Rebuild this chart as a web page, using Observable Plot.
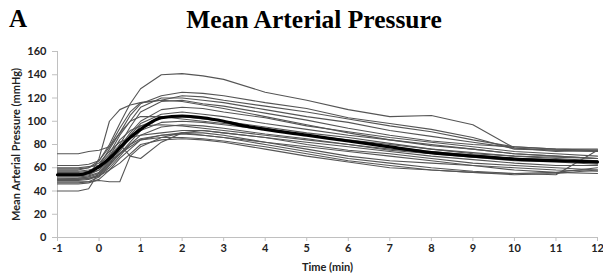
<!DOCTYPE html>
<html>
<head>
<meta charset="utf-8">
<script src="https://cdn.jsdelivr.net/npm/d3@7"></script>
<script src="https://cdn.jsdelivr.net/npm/@observablehq/plot@0.6"></script>
<style>
  body { margin: 0; background: #fff; }
  #wrap { position: relative; width: 603px; height: 279px; }
  .ttl { position: absolute; font-family: "Liberation Serif", serif; font-weight: bold; color: #000; white-space: nowrap; }
</style>
</head>
<body>
<div id="wrap">
  <div class="ttl" id="panel" style="left:9px; top:5px; font-size:25px;">A</div>
  <div class="ttl" id="title" style="left:0; width:628px; text-align:center; top:5px; font-size:25.5px;">Mean Arterial Pressure</div>
  <div id="chart"></div>
</div>
<script>
const times = [-1, -0.5, -0.25, 0, 0.25, 0.5, 0.75, 1, 1.5, 2, 2.5, 3, 4, 5, 6, 7, 8, 9, 10, 11, 12];

const s1  = [58,58,60,66,80,98,115,128,140,141,139,136,125,118,110,104,105,97,77,74,75];
const s2  = [72,72,74,75,78,90,105,115,122,125,124,122,116,111,103,98,93,86,76,75,74];
const s3  = [50,51,52,68,100,110,114,116,118,122,121,118,113,108,102,96,91,84,78,76,76];
const s4  = [60,60,61,62,72,88,100,112,120,120,118,116,110,104,99,92,87,82,77,75,74];
const s5  = [57,57,58,60,70,80,95,108,117,118,115,113,107,101,94,88,83,80,78,76,75];
const s6  = [55,55,56,60,68,78,90,100,110,112,111,108,103,96,91,86,82,78,74,72,70];
const s7  = [54,54,55,58,66,76,88,98,106,108,106,104,98,93,88,84,79,76,72,70,68];
const s8  = [52,52,53,56,64,74,86,96,103,104,102,100,95,90,86,81,76,73,70,68,66];
const s9  = [50,50,51,54,62,72,82,92,99,100,99,97,93,88,83,78,74,71,68,67,64];
const s10 = [49,49,50,53,60,70,80,88,95,97,96,94,89,85,80,75,72,69,66,65,63];
const s11 = [48,48,48,49,48,48,70,78,86,90,90,88,82,76,70,66,64,62,60,58,57];
const s12 = [47,47,48,52,62,80,70,68,82,90,92,90,86,80,75,72,68,64,62,60,58];
const s13 = [46,46,47,50,58,68,76,84,88,90,88,86,80,74,68,64,60,57,55,56,60];
const s14 = [40,40,42,56,65,72,78,84,86,86,85,83,78,72,66,62,58,56,54,55,58];
const s15 = [56,56,57,62,76,90,100,104,104,102,100,98,94,88,84,80,76,72,70,69,68];
const s16 = [53,53,54,58,70,84,92,96,97,96,94,92,88,84,80,76,73,70,68,66,65];
const s17 = [51,51,52,55,63,72,80,85,88,89,88,86,82,78,74,70,66,62,58,56,55];
const s18 = [59,59,60,64,74,82,86,88,90,92,92,90,86,82,78,74,70,67,64,62,62];
const s19 = [50,50,51,53,58,64,72,80,84,85,84,82,76,70,65,60,58,56,55,54,75];
const s20 = [62,62,63,66,78,94,108,116,118,117,114,111,104,97,90,84,80,76,72,70,68];

const meanTimes = [-1, -0.5, -0.25, 0, 0.25, 0.5, 0.75, 1, 1.25, 1.5, 2, 2.5, 3, 3.5, 4, 5, 6, 7, 8, 9, 10, 11, 12];
const meanValues = [54,54,56,61,68,77,86,93,99,103,104.5,103,100,96,93,88,83,78,73,70,67.5,66,65];

const xTicks = [-1,0,1,2,3,4,5,6,7,8,9,10,11,12];
const yTicks = [0,20,40,60,80,100,120,140,160];

const series = [s1,s2,s3,s4,s5,s6,s7,s8,s9,s10,s11,s12,s13,s14,s15,s16,s17,s18,s19,s20];
const rows = series.flatMap((s, i) => s.map((v, j) => ({id: i, t: times[j], v})));
const meanRows = meanValues.map((v, j) => ({t: meanTimes[j], v}));

const font = "Lato, 'Open Sans', sans-serif";

const chart = Plot.plot({
  width: 603,
  height: 279,
  marginLeft: 57,
  marginRight: 6,
  marginTop: 51,
  marginBottom: 42,
  style: {fontFamily: font, fontWeight: "bold", fontSize: "11px", color: "#222", background: "transparent"},
  x: {domain: [-1, 12]},
  y: {domain: [0, 160]},
  marks: [
    Plot.ruleY([0], {stroke: "#c0c0c0"}),
    Plot.ruleX([-1], {stroke: "#c0c0c0"}),
    Plot.axisX({ticks: xTicks, tickFormat: d => String(d), tickSize: 4, tickPadding: 3, stroke: "#c0c0c0", fill: "#222",
      label: "Time (min)", labelAnchor: "center", labelArrow: "none", labelOffset: 33}),
    Plot.axisY({ticks: yTicks, tickSize: 5, tickPadding: 6, stroke: "#c0c0c0", fill: "#222",
      label: "Mean Arterial Pressure (mmHg)", labelAnchor: "center", labelArrow: "none", labelOffset: 45}),
    Plot.line(rows, {x: "t", y: "v", z: "id", stroke: "#555", strokeWidth: 1.1}),
    Plot.line(meanRows, {x: "t", y: "v", stroke: "#000", strokeWidth: 3.2, curve: "monotone-x"})
  ]
});
document.getElementById("chart").appendChild(chart);
</script>
</body>
</html>
